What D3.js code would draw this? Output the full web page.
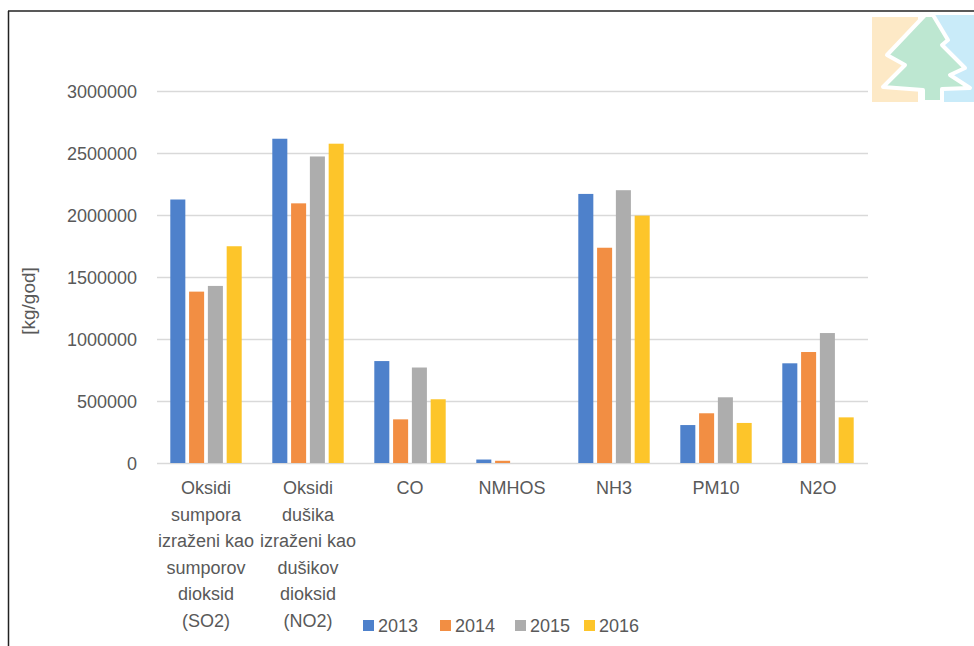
<!DOCTYPE html>
<html>
<head>
<meta charset="utf-8">
<script src="https://cdn.jsdelivr.net/npm/d3@7"></script>
<style>
  html, body { margin: 0; padding: 0; background: #fff; }
  svg { display: block; font-family: "Liberation Sans", Arial, sans-serif; }
</style>
</head>
<body>
<svg id="chart" width="974" height="646"></svg>
<script>
// ---- data ----
const categories = [
  ["Oksidi", "sumpora", "izraženi kao", "sumporov", "dioksid", "(SO2)"],
  ["Oksidi", "dušika", "izraženi kao", "dušikov", "dioksid", "(NO2)"],
  ["CO"],
  ["NMHOS"],
  ["NH3"],
  ["PM10"],
  ["N2O"]
];
const categoryKeys = ["SO2", "NO2", "CO", "NMHOS", "NH3", "PM10", "N2O"];
const years = ["2013", "2014", "2015", "2016"];
const values2013 = [2125000, 2615000, 822000, 28000, 2170000, 306000, 804000];
const values2014 = [1382000, 2094000, 352000, 18000, 1736000, 401000, 895000];
const values2015 = [1428000, 2472000, 770000, 0, 2200000, 530000, 1048000];
const values2016 = [1748000, 2575000, 514000, 0, 1995000, 323000, 368000];
const yTicks = [0, 500000, 1000000, 1500000, 2000000, 2500000, 3000000];
const yLabel = "[kg/god]";

const series = [values2013, values2014, values2015, values2016];
const colors = ["#4e81cb", "#f28e43", "#adadad", "#fdc52a"];
const textColor = "#595959";

(function () {
const svg = d3.select("#chart");

// ---- logo (top-right) ----
const logo = svg.append("g");
logo.append("rect").attr("x", 872).attr("y", 17).attr("width", 46).attr("height", 85).attr("fill", "#fde9c6");
logo.append("rect").attr("x", 933).attr("y", 15).attr("width", 41).attr("height", 87).attr("fill", "#c9ebf9");
const treePts = [[925,15],[933,15],[948,40],[942,45],[965,68],[950,75],[970,88],[942,89],[942,102],[923,102],[923,90],[883,87],[905,65],[887,55]];
logo.append("path").attr("d", d3.line()(treePts) + "Z")
  .attr("fill", "#bde7d1").attr("stroke", "#fff").attr("stroke-width", 4).attr("stroke-linejoin", "round");

// ---- frame ----
svg.append("line").attr("x1", 8).attr("x2", 974).attr("y1", 11).attr("y2", 11).attr("stroke", "#222").attr("stroke-width", 1.5);
svg.append("line").attr("x1", 8.5).attr("x2", 8.5).attr("y1", 11).attr("y2", 646).attr("stroke", "#222").attr("stroke-width", 1.5);

// ---- scales ----
const pLeft = 155, pRight = 869, pTop = 91, pBottom = 463;
const y = d3.scaleLinear().domain([0, 3000000]).range([pBottom, pTop]);
const x0 = d3.scaleBand().domain(categoryKeys).range([pLeft, pRight]).paddingInner(0.3).paddingOuter(0.15);
const x1 = d3.scaleBand().domain(years).range([0, x0.bandwidth()]).paddingInner(0.2).paddingOuter(0);

// gridlines
const grid = svg.append("g").attr("transform", `translate(${pLeft + 2},0)`)
  .call(d3.axisLeft(y).tickValues(yTicks).tickSize(-(pRight - pLeft - 3)).tickFormat(""));
grid.select(".domain").remove();
grid.selectAll(".tick line").attr("stroke", "#d9d9d9").attr("stroke-width", 1.5);

// y axis labels
const yAxis = svg.append("g").attr("transform", `translate(${pLeft - 18},0)`)
  .call(d3.axisLeft(y).tickValues(yTicks).tickSize(0).tickFormat(d3.format("d")));
yAxis.select(".domain").remove();
yAxis.selectAll("text").attr("fill", textColor).style("font-size", "18px")
  .attr("x", 0).attr("dy", "0.34em").style("font-family", "'Liberation Sans', Arial, sans-serif");

// y label
svg.append("text").attr("transform", "translate(35,301) rotate(-90)")
  .attr("text-anchor", "middle").attr("fill", textColor).style("font-size", "19px").text(yLabel);

// bars
const groups = svg.append("g").selectAll("g").data(categoryKeys).join("g")
  .attr("transform", d => `translate(${x0(d)},0)`);
groups.selectAll("rect").data((d, i) => years.map((yr, j) => ({ yr, v: series[j][i], c: colors[j] })))
  .join("rect")
  .attr("x", d => x1(d.yr))
  .attr("width", x1.bandwidth())
  .attr("y", d => y(d.v))
  .attr("height", d => Math.max(0, y(0) - y(d.v)))
  .attr("fill", d => d.c);

// x labels
const xl = svg.append("g");
categoryKeys.forEach((k, i) => {
  const cx = x0(k) + x0.bandwidth() / 2;
  const t = xl.append("text").attr("x", cx).attr("y", 494)
    .attr("text-anchor", "middle").attr("fill", textColor).style("font-size", "18px");
  categories[i].forEach((line, j) => {
    t.append("tspan").attr("x", cx).attr("y", 494 + j * 26.6).text(line);
  });
});

// legend
const legendX = [363, 440, 515, 584];
const leg = svg.append("g");
years.forEach((yr, j) => {
  leg.append("rect").attr("x", legendX[j]).attr("y", 620).attr("width", 11).attr("height", 11).attr("fill", colors[j]);
  leg.append("text").attr("x", legendX[j] + 15).attr("y", 632).attr("fill", textColor)
    .style("font-size", "18px").text(yr);
});
})();
</script>
</body>
</html>
